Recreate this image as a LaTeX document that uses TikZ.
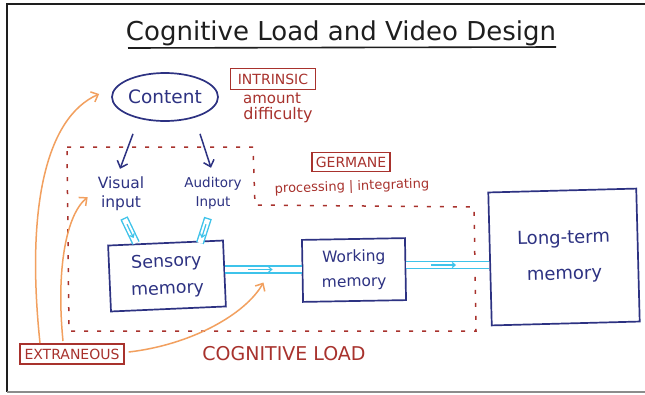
\documentclass[tikz,border=0pt]{standalone}
\usepackage{fontspec}
\setmainfont{DejaVu Sans}
\usetikzlibrary{arrows.meta,shapes.geometric}
\definecolor{navy}{RGB}{45,50,130}
\definecolor{darkred}{RGB}{168,50,45}
\definecolor{orng}{RGB}{242,160,95}
\definecolor{skyb}{RGB}{62,195,234}
\definecolor{ink}{RGB}{30,30,30}
\tikzset{
  fs/.style={font=\fontsize{#1}{#1}\selectfont},
  navtext/.style={text=navy, align=center, inner sep=2pt},
  membox/.style={draw=navy, line width=1.7pt, text=navy, align=center, inner sep=0pt},
  redbox/.style={draw=darkred, line width=1.4pt, text=darkred, inner sep=0pt},
  redtext/.style={text=darkred, inner sep=1pt},
  navarr/.style={draw=navy, line width=1.5pt, -{Straight Barb[length=6pt,width=11pt]}},
  orarr/.style={draw=orng, line width=1.5pt, -{Straight Barb[length=6pt,width=11pt]}},
  flow/.style={draw=skyb, double=white, double distance=5.5pt, line width=1.4pt},
  shaftout/.style={draw=skyb, line width=8pt},
  shaftin/.style={draw=white, line width=5.2pt, shorten <=1.4pt},
  smallarr/.style={draw=skyb, line width=1.2pt, -{Straight Barb[length=3pt,width=5pt]}},
  region/.style={draw=darkred, line width=1.5pt, dash pattern=on 4pt off 9pt}
}
\begin{document}
\begin{tikzpicture}[x=1pt,y=-1pt]
\useasboundingbox (0,0) rectangle (645,394);
\fill[white] (0,0) rectangle (645,394);
% frame
\draw[ink, line width=2pt] (645,4) -- (7,4) -- (7,392);
\draw[black!45, line width=1.5pt] (7,392) -- (645,392);

% title
\node[fs=26, text=ink, inner sep=0pt] (title) at (341,33) {Cognitive Load and Video Design};
\draw[ink, line width=1.6pt] (128,48) -- (556,47);

% content
\node[ellipse, draw=navy, line width=1.7pt, inner sep=0pt, minimum width=106pt, minimum height=48pt, text=navy, fs=18.5] (content) at (165,97) {Content};
\node[redbox, fs=14, minimum width=85pt, minimum height=21pt] (intrinsic) at (273,79) {INTRINSIC};
\node[redtext, fs=15] (amount) at (272,98) {amount};
\node[redtext, fs=16] (difficulty) at (278,115) {difficulty};

% inputs
\node[navtext, font=\fontsize{15.5}{19}\selectfont] (visual) at (121,194) {Visual\\input};
\node[navtext, font=\fontsize{13.5}{19}\selectfont] (auditory) at (213,193) {Auditory\\Input};
\draw[navarr] ([shift={(-32,12)}]content.south) -- ([shift={(-1,-6)}]visual.north);
\draw[navarr] ([shift={(35,12)}]content.south) -- ([shift={(-2,-7)}]auditory.north);

% region of cognitive load
\draw[region] (67,147) -- (253,147) -- (255,205) -- (474,207) -- (476,331) -- (69,331) -- cycle;

% germane
\node[redbox, fs=14, minimum width=78pt, minimum height=19pt] (germane) at (351,162) {GERMANE};
\node[redtext, fs=13, rotate=2] (processing) at (352,187) {processing | integrating};

% input shaft tops
\coordinate (vtop) at ([shift={(3,24)}]visual.center);
\coordinate (atop) at ([shift={(-5,25)}]auditory.center);

% memory boxes
\node[membox, font=\fontsize{17.5}{27}\selectfont, minimum width=115pt, minimum height=66pt, rotate=2.5] (sensory) at (167,276) {Sensory\\memory};
\node[membox, font=\fontsize{15.5}{25}\selectfont, minimum width=103pt, minimum height=62pt, rotate=1] (working) at (354,270) {Working\\memory};
\node[membox, font=\fontsize{18}{36}\selectfont, minimum width=148pt, minimum height=133pt, rotate=1.5] (ltm) at (564,257) {Long-term\\memory};

\draw[shaftout] (vtop) -- ([shift={(-31,-33)}]sensory.center);
\draw[shaftin] (vtop) -- ([shift={(-31,-33)}]sensory.center);
\path (vtop) -- ([shift={(-31,-33)}]sensory.center) coordinate[pos=0.25] (v1) coordinate[pos=0.8] (v2);
\draw[smallarr] (v1) -- (v2);
\draw[shaftout] (atop) -- ([shift={(33,-33)}]sensory.center);
\draw[shaftin] (atop) -- ([shift={(33,-33)}]sensory.center);
\path (atop) -- ([shift={(33,-33)}]sensory.center) coordinate[pos=0.25] (u1) coordinate[pos=0.8] (u2);
\draw[smallarr] (u1) -- (u2);

% flows
\coordinate (flowA) at (0,269.5);
\coordinate (flowB) at (0,265);
\draw[flow] (sensory.east |- flowA) -- (working.west |- flowA);
\path (sensory.east |- flowA) -- (working.west |- flowA) coordinate[pos=0.3] (fa1) coordinate[pos=0.62] (fa2) coordinate[pos=0.5] (fam);
\draw[smallarr] (fa1) -- (fa2);
\draw[flow] (working.east |- flowB) -- (ltm.west |- flowB);
\path (working.east |- flowB) -- (ltm.west |- flowB) coordinate[pos=0.3] (fb1) coordinate[pos=0.6] (fb2);
\draw[smallarr] (fb1) -- (fb2);

% extraneous
\node[redbox, fs=14, minimum width=104pt, minimum height=20pt] (extraneous) at (72,354) {EXTRANEOUS};
\node[redtext, fs=19] (cogload) at (284,354) {COGNITIVE LOAD};
\draw[orarr] ([shift={(-32,-11)}]extraneous.center) .. controls (26,210) and (45,118) .. ([shift={(-12,-3)}]content.west);
\draw[orarr] ([shift={(-9,-13)}]extraneous.center) .. controls (56,270) and (66,215) .. ([shift={(-8,-16)}]visual.south west);
\draw[orarr] ([shift={(4,-2)}]extraneous.east) .. controls (190,345) and (245,315) .. ([shift={(0,13)}]fam);
\end{tikzpicture}
\end{document}
